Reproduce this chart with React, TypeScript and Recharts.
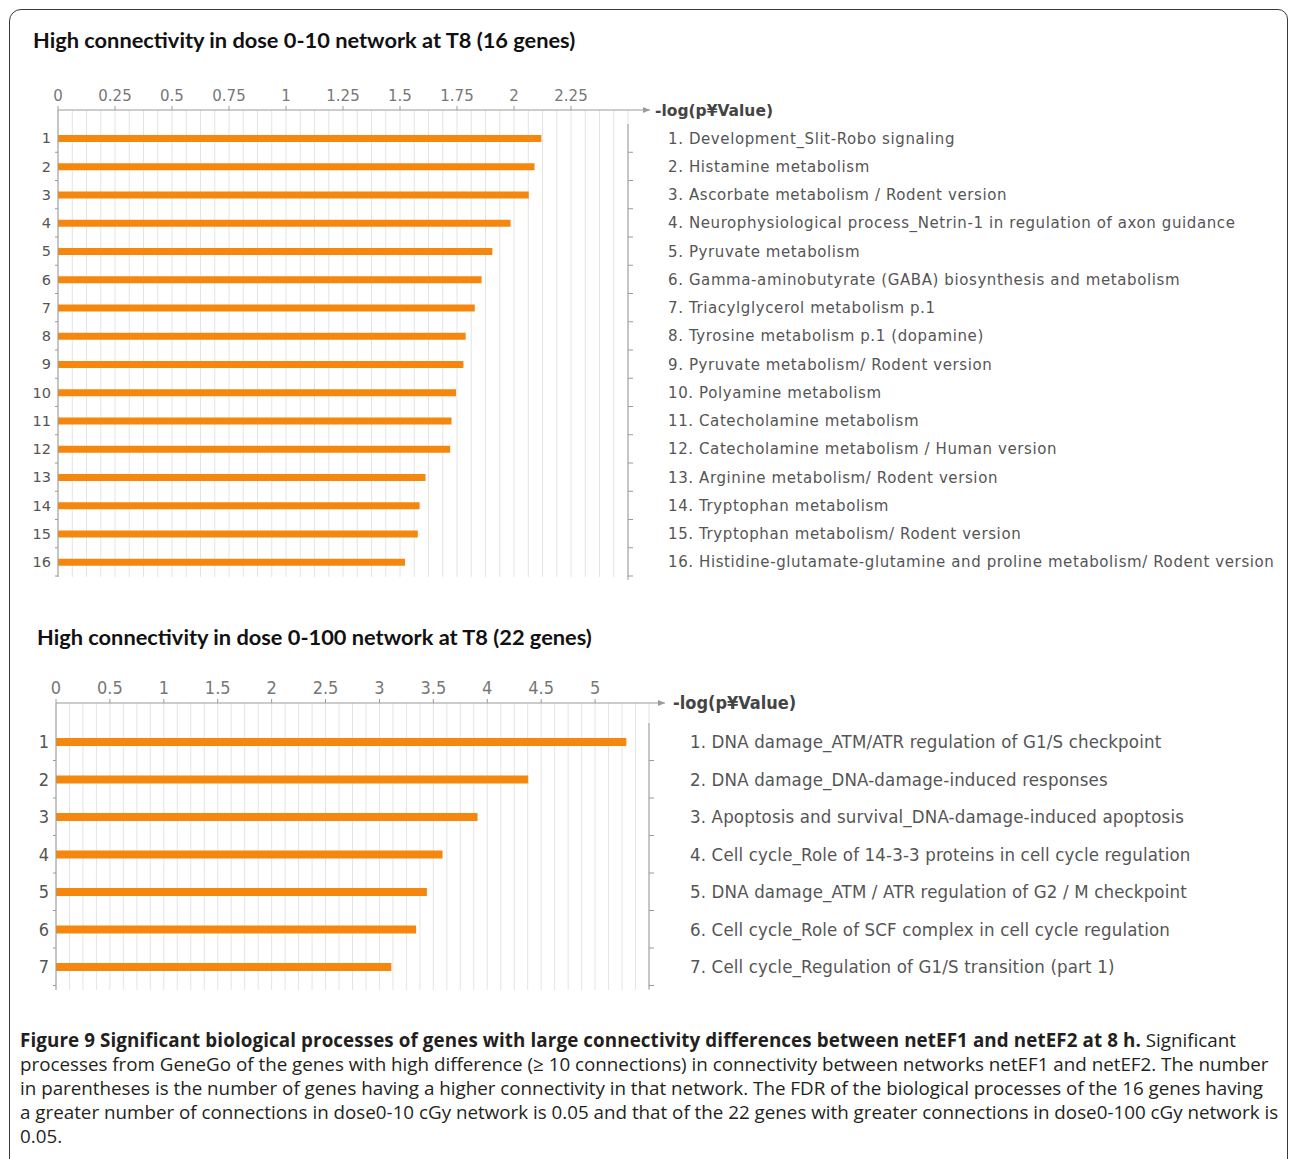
import React from 'react';
import { BarChart, Bar, XAxis, YAxis, CartesianGrid } from 'recharts';

// dose 0-10 network (16 genes)
const topIds = ['1', '2', '3', '4', '5', '6', '7', '8', '9', '10', '11', '12', '13', '14', '15', '16'];
const topNames = [
  'Development_Slit-Robo signaling',
  'Histamine metabolism',
  'Ascorbate metabolism / Rodent version',
  'Neurophysiological process_Netrin-1 in regulation of axon guidance',
  'Pyruvate metabolism',
  'Gamma-aminobutyrate (GABA) biosynthesis and metabolism',
  'Triacylglycerol metabolism p.1',
  'Tyrosine metabolism p.1 (dopamine)',
  'Pyruvate metabolism/ Rodent version',
  'Polyamine metabolism',
  'Catecholamine metabolism',
  'Catecholamine metabolism / Human version',
  'Arginine metabolism/ Rodent version',
  'Tryptophan metabolism',
  'Tryptophan metabolism/ Rodent version',
  'Histidine-glutamate-glutamine and proline metabolism/ Rodent version',
];
const topValues = [2.12, 2.09, 2.065, 1.985, 1.905, 1.858, 1.828, 1.788, 1.778, 1.746, 1.726, 1.72, 1.612, 1.586, 1.578, 1.522];
const topTicks = [0, 0.25, 0.5, 0.75, 1, 1.25, 1.5, 1.75, 2, 2.25];

// dose 0-100 network (22 genes)
const bottomIds = ['1', '2', '3', '4', '5', '6', '7'];
const bottomNames = [
  'DNA damage_ATM/ATR regulation of G1/S checkpoint',
  'DNA damage_DNA-damage-induced responses',
  'Apoptosis and survival_DNA-damage-induced apoptosis',
  'Cell cycle_Role of 14-3-3 proteins in cell cycle regulation',
  'DNA damage_ATM / ATR regulation of G2 / M checkpoint',
  'Cell cycle_Role of SCF complex in cell cycle regulation',
  'Cell cycle_Regulation of G1/S transition (part 1)',
];
const bottomValues = [5.29, 4.38, 3.91, 3.585, 3.44, 3.34, 3.11];
const bottomTicks = [0, 0.5, 1, 1.5, 2, 2.5, 3, 3.5, 4, 4.5, 5];

const captionBold = 'Figure 9 Significant biological processes of genes with large connectivity differences between netEF1 and netEF2 at 8 h.';
const captionLines = [
  ' Significant',
  'processes from GeneGo of the genes with high difference (\u2265 10 connections) in connectivity between networks netEF1 and netEF2. The number',
  'in parentheses is the number of genes having a higher connectivity in that network. The FDR of the biological processes of the 16 genes having',
  'a greater number of connections in dose0-10 cGy network is 0.05 and that of the 22 genes with greater connections in dose0-100 cGy network is',
  '0.05.',
];

const AXIS_TITLE = '-log(p\u00a5Value)';
const ORANGE = '#F5870F';
const AXIS = '#9a9a9a';
const GRID = '#e4e4e4';
const TXT = '#555';
const COND = "'DejaVu Sans Condensed', 'DejaVu Sans', sans-serif";
const DEJA = "'DejaVu Sans', Verdana, sans-serif";

const topRows = topIds.map((id, i) => ({ id, name: topNames[i], value: topValues[i] }));
const bottomRows = bottomIds.map((id, i) => ({ id, name: bottomNames[i], value: bottomValues[i] }));

const gridGen = (max: number, step: number) => ({ xAxis, offset }: any) => {
  const out: number[] = [];
  for (let v = 0; v <= max + 1e-9; v += step) {
    out.push(xAxis && typeof xAxis.scale === 'function' ? xAxis.scale(v) : offset.left + (v / max) * offset.width);
  }
  return out;
};

const LeftTick = ({ x, y, payload, band, fontSize, family }: any) => (
  <g>
    <text x={x - 7} y={y} dy="0.36em" textAnchor="end" fill={TXT} fontSize={fontSize} fontFamily={family}>
      {payload.value}
    </text>
    <line x1={x - 3} x2={x} y1={y + band / 2} y2={y + band / 2} stroke={AXIS} />
  </g>
);

const RightTick = ({ x, y, payload, band, names, gap, fontSize, family, spacing }: any) => {
  const idx = Number(payload.value) - 1;
  return (
    <g>
      <line x1={x} x2={x} y1={y - band / 2} y2={y + band / 2 + (idx === names.length - 1 ? 4 : 0)} stroke={AXIS} />
      <line x1={x} x2={x + 5} y1={y + band / 2} y2={y + band / 2} stroke={AXIS} />
      <text
        x={x + gap}
        y={y}
        dy="0.36em"
        textAnchor="start"
        fill={TXT}
        fontSize={fontSize}
        fontFamily={family}
        letterSpacing={spacing}
      >
        {`${payload.value}. ${names[idx]}`}
      </text>
    </g>
  );
};

const AxisArrow = ({ viewBox, len, gap, fontSize, family }: any) => {
  const { x, y, width, height } = viewBox;
  const ax = x + width;
  const ay = y + height;
  return (
    <g>
      <line x1={ax} x2={ax + len} y1={ay} y2={ay} stroke={AXIS} />
      <polygon points={`${ax + len},${ay} ${ax + len - 7},${ay - 3} ${ax + len - 7},${ay + 3}`} fill={AXIS} />
      <text x={ax + len + gap} y={ay} dy="0.36em" fill="#444" fontWeight="bold" fontSize={fontSize} fontFamily={family}>
        {AXIS_TITLE}
      </text>
    </g>
  );
};

const titleStyle: React.CSSProperties = {
  position: 'absolute',
  fontFamily: 'Lato, sans-serif',
  fontWeight: 700,
  fontSize: 21.8,
  color: '#111',
  whiteSpace: 'nowrap',
  lineHeight: '26px',
};

export default function App() {
  const topBand = (577 - 110 - 15) / topRows.length;
  const bottomBand = (990 - 703 - 24.5) / bottomRows.length;

  return (
    <div style={{ position: 'absolute', left: 0, top: 0, width: 1290, height: 1159, overflow: 'hidden', background: '#fff' }}>
      <div
        style={{
          position: 'absolute',
          left: 9,
          top: 9,
          width: 1279,
          height: 1200,
          border: '1.5px solid #3a3a3a',
          borderTopLeftRadius: 12,
          borderTopRightRadius: 10,
          boxSizing: 'border-box',
        }}
      />
      <div style={{ ...titleStyle, left: 33, top: 27 }}>High connectivity in dose 0-10 network at T8 (16 genes)</div>
      <div style={{ ...titleStyle, left: 37, top: 624 }}>High connectivity in dose 0-100 network at T8 (22 genes)</div>

      <div style={{ position: 'absolute', left: 0, top: 60 }}>
        <BarChart width={1290} height={530} data={topRows} layout="vertical" margin={{ top: 20, right: 22, bottom: 13, left: 8 }}>
          <CartesianGrid horizontal={false} stroke={GRID} verticalCoordinatesGenerator={gridGen(2.5, 0.0625)} />
          <XAxis
            type="number"
            orientation="top"
            domain={[0, 2.5]}
            ticks={topTicks}
            height={30}
            tickSize={4}
            tickMargin={5}
            stroke={AXIS}
            tick={{ fill: '#777', fontSize: 15, fontFamily: DEJA }}
            label={(p: any) => <AxisArrow {...p} len={22} gap={5} fontSize={15.5} family={DEJA} />}
          />
          <YAxis
            type="category"
            dataKey="id"
            width={50}
            padding={{ top: 14, bottom: 1 }}
            tickSize={0}
            tickMargin={0}
            tickLine={false}
            stroke={AXIS}
            interval={0}
            tick={(p: any) => <LeftTick {...p} band={topBand} fontSize={14.5} family={DEJA} />}
          />
          <YAxis
            yAxisId="names"
            orientation="right"
            type="category"
            dataKey="id"
            width={640}
            padding={{ top: 14, bottom: 1 }}
            tickSize={0}
            tickMargin={0}
            tickLine={false}
            axisLine={false}
            interval={0}
            tick={(p: any) => (
              <RightTick {...p} band={topBand} names={topNames} gap={40} fontSize={15} spacing={0.6} family={DEJA} />
            )}
          />
          <Bar dataKey="value" fill={ORANGE} barSize={7} isAnimationActive={false} />
        </BarChart>
      </div>

      <div style={{ position: 'absolute', left: 0, top: 650 }}>
        <BarChart width={1290} height={350} data={bottomRows} layout="vertical" margin={{ top: 23, right: 21, bottom: 10, left: 8 }}>
          <CartesianGrid horizontal={false} stroke={GRID} verticalCoordinatesGenerator={gridGen(5.5, 0.125)} />
          <XAxis
            type="number"
            orientation="top"
            domain={[0, 5.5]}
            ticks={bottomTicks}
            height={30}
            tickSize={4}
            tickMargin={5}
            stroke={AXIS}
            tick={{ fill: '#777', fontSize: 18, fontFamily: COND }}
            label={(p: any) => <AxisArrow {...p} len={16} gap={8} fontSize={18} family={COND} />}
          />
          <YAxis
            type="category"
            dataKey="id"
            width={48}
            padding={{ top: 20, bottom: 4.5 }}
            tickSize={0}
            tickMargin={0}
            tickLine={false}
            stroke={AXIS}
            interval={0}
            tick={(p: any) => <LeftTick {...p} band={bottomBand} fontSize={18} family={COND} />}
          />
          <YAxis
            yAxisId="names"
            orientation="right"
            type="category"
            dataKey="id"
            width={620}
            padding={{ top: 20, bottom: 4.5 }}
            tickSize={0}
            tickMargin={0}
            tickLine={false}
            axisLine={false}
            interval={0}
            tick={(p: any) => (
              <RightTick {...p} band={bottomBand} names={bottomNames} gap={41} fontSize={18.5} spacing={0.15} family={COND} />
            )}
          />
          <Bar dataKey="value" fill={ORANGE} barSize={8} isAnimationActive={false} />
        </BarChart>
      </div>

      <div
        style={{
          position: 'absolute',
          left: 20,
          top: 1028,
          fontFamily: "'Open Sans', sans-serif",
          fontSize: 18.8,
          lineHeight: '24px',
          color: '#231f20',
          whiteSpace: 'nowrap',
        }}
      >
        <div>
          <b style={{ letterSpacing: 0.1 }}>{captionBold}</b>
          {captionLines[0]}
        </div>
        {captionLines.slice(1).map((l) => (
          <div key={l}>{l}</div>
        ))}
      </div>
    </div>
  );
}
